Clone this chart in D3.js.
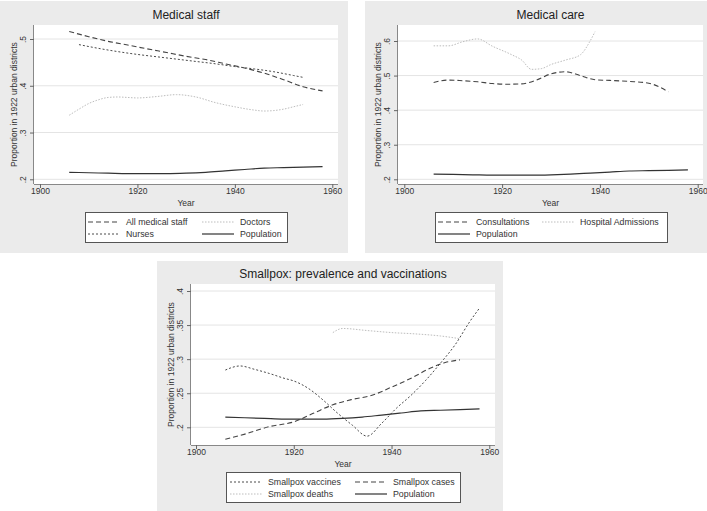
<!DOCTYPE html>
<html>
<head>
<meta charset="utf-8">
<script src="https://cdn.jsdelivr.net/npm/d3@7"></script>
<style>
  body { margin: 0; background: #fff; }
  svg { display: block; font-family: "Liberation Sans", Arial, sans-serif; }
</style>
</head>
<body>
<svg id="chart" width="707" height="511"></svg>
<script>
// population share (same series in all three panels)
const popYears = [1906, 1910, 1914, 1918, 1922, 1926, 1930, 1934, 1938, 1942, 1946, 1950, 1954, 1958];
const population = [.215, .214, .213, .212, .212, .212, .213, .215, .218, .221, .224, .225, .226, .227];

// Medical staff
const staffYears = [1906, 1910, 1914, 1918, 1922, 1926, 1930, 1934, 1938, 1942, 1946, 1950, 1954, 1958];
const allStaff = [.516, .505, .495, .487, .479, .471, .463, .456, .447, .438, .427, .413, .398, .389];
const nurseYears = [1908, 1912, 1916, 1920, 1924, 1928, 1932, 1936, 1940, 1944, 1948, 1952, 1954];
const nurses = [.488, .480, .473, .467, .462, .457, .452, .447, .441, .436, .430, .422, .418];
const doctorYears = [1906, 1908, 1910, 1912, 1914, 1916, 1918, 1920, 1924, 1928, 1932, 1936, 1940, 1944, 1946, 1948, 1950, 1952, 1954];
const doctors = [.337, .350, .362, .370, .375, .376, .375, .374, .377, .381, .376, .364, .355, .348, .346, .347, .350, .355, .360];

// Medical care
const consultYears = [1906, 1909, 1912, 1915, 1918, 1921, 1924, 1927, 1930, 1933, 1936, 1939, 1942, 1946, 1950, 1952, 1954];
const consultations = [.480, .487, .485, .482, .477, .475, .476, .487, .505, .511, .500, .488, .486, .483, .478, .468, .453];
const admitYears = [1906, 1909, 1912, 1915, 1918, 1922, 1924, 1926, 1928, 1930, 1933, 1936, 1938, 1939];
const admissions = [.586, .586, .598, .606, .585, .560, .545, .518, .520, .532, .545, .560, .600, .627];

// Smallpox
const vaccYears = [1906, 1909, 1912, 1915, 1918, 1920, 1923, 1926, 1929, 1932, 1935, 1938, 1941, 1944, 1947, 1950, 1953, 1956, 1958];
const vaccines = [.284, .290, .285, .279, .272, .268, .257, .240, .2205, .203, .187, .206, .228, .247, .269, .294, .321, .355, .375];
const caseYears = [1906, 1910, 1915, 1920, 1924, 1928, 1932, 1936, 1940, 1944, 1948, 1951, 1954];
const cases = [.1824, .190, .201, .208, .2205, .233, .241, .247, .259, .272, .287, .295, .299];
const deathYears = [1928, 1930, 1935, 1940, 1945, 1950, 1954];
const deaths = [.339, .345, .342, .339, .337, .334, .330];

const xTicks = [1900, 1920, 1940, 1960];

const styles = {
  dash:  { stroke: '#444', width: 1.1, dash: '5,3' },
  dot:   { stroke: '#4a4a4a', width: 1, dash: '2,2' },
  light: { stroke: '#bdbdbd', width: 1, dash: '1.5,1.5' },
  solid: { stroke: '#333', width: 1.2, dash: null }
};

const zip = (xs, ys) => xs.map((x, i) => [x, ys[i]]);
const fmt = d => String(d).replace(/^0/, '');

const svg = d3.select('#chart');

function drawPanel(p) {
  const g = svg.append('g');
  g.append('rect').attr('x', p.box[0]).attr('y', p.box[1])
    .attr('width', p.box[2]).attr('height', p.box[3]).attr('fill', '#ebebeb');
  const [px0, py0, px1, py1] = p.plot;
  g.append('rect').attr('x', px0).attr('y', py0)
    .attr('width', px1 - px0).attr('height', py1 - py0).attr('fill', '#fff');

  const x = d3.scaleLinear().domain([1900, 1960]).range(p.xr);
  const y = d3.scaleLinear().domain([p.yTicks[0], p.yTicks[p.yTicks.length - 1]]).range(p.yr);

  // grid
  g.selectAll('.grid').data(p.yTicks).join('line')
    .attr('x1', px0).attr('x2', px1)
    .attr('y1', d => y(d)).attr('y2', d => y(d))
    .attr('stroke', '#e4e4e4').attr('stroke-width', 1);

  // axes
  const ax = g.append('g').attr('transform', `translate(0,${py1})`)
    .call(d3.axisBottom(x).tickValues(xTicks).tickFormat(d3.format('d')).tickSize(4).tickSizeOuter(0));
  ax.select('.domain').attr('d', `M${px0},0.5H${px1}`).attr('stroke', '#888');
  ax.selectAll('.tick line').attr('stroke', '#666');
  ax.selectAll('.tick text').attr('font-size', 8.5).attr('fill', '#333').attr('dy', '0.55em').attr('y', 5);

  const ay = g.append('g').attr('transform', `translate(${px0},0)`)
    .call(d3.axisLeft(y).tickValues(p.yTicks).tickFormat(fmt).tickSize(4).tickSizeOuter(0));
  ay.select('.domain').attr('d', `M-0.5,${py0}V${py1}`).attr('stroke', '#888');
  ay.selectAll('.tick line').attr('stroke', '#666');
  ay.selectAll('.tick text')
    .attr('font-size', 8.5).attr('fill', '#333')
    .attr('x', 0).attr('dy', 0)
    .attr('text-anchor', 'middle')
    .attr('transform', 'translate(-8,0) rotate(-90)');
  ay.attr('font-family', null);
  ax.attr('font-family', null);

  // titles
  g.append('text').attr('x', (px0 + px1) / 2).attr('y', py0 - 6)
    .attr('text-anchor', 'middle').attr('font-size', 12).attr('fill', '#222').text(p.title);
  g.append('text').attr('x', (px0 + px1) / 2).attr('y', py1 + 22)
    .attr('text-anchor', 'middle').attr('font-size', 8.5).attr('fill', '#333').text('Year');
  g.append('text')
    .attr('transform', `translate(${px0 - 17},${(py0 + py1) / 2}) rotate(-90)`)
    .attr('text-anchor', 'middle').attr('font-size', 8.5).attr('fill', '#333')
    .text('Proportion in 1922 urban districts');

  // lines
  const line = d3.line().x(d => x(d[0])).y(d => y(d[1])).curve(d3.curveMonotoneX);
  p.series.forEach(s => {
    const st = styles[s.style];
    g.append('path').datum(s.data).attr('d', line)
      .attr('fill', 'none').attr('stroke', st.stroke).attr('stroke-width', st.width)
      .attr('stroke-dasharray', st.dash);
  });

  // legend
  const [lx, ly, lw, lh] = p.legend.box;
  g.append('rect').attr('x', lx + 0.5).attr('y', ly + 0.5).attr('width', lw).attr('height', lh)
    .attr('fill', '#fff').attr('stroke', '#555').attr('stroke-width', 1);
  p.series.forEach((s, i) => {
    const col = i % 2, row = Math.floor(i / 2);
    const sx = p.legend.cols[col], sy = ly + 10 + row * 12;
    const st = styles[s.style];
    g.append('line').attr('x1', sx).attr('x2', sx + 32).attr('y1', sy).attr('y2', sy)
      .attr('stroke', st.stroke).attr('stroke-width', st.width).attr('stroke-dasharray', st.dash);
    g.append('text').attr('x', sx + 38).attr('y', sy + 3.2)
      .attr('font-size', 8.8).attr('fill', '#333').text(s.name);
  });
}

drawPanel({
  title: 'Medical staff',
  box: [0, 1, 348, 252], plot: [34, 25, 338, 184],
  xr: [40, 332.3], yr: [179.3, 39], yTicks: [.2, .3, .4, .5],
  series: [
    { name: 'All medical staff', style: 'dash', data: zip(staffYears, allStaff) },
    { name: 'Doctors', style: 'light', data: zip(doctorYears, doctors) },
    { name: 'Nurses', style: 'dot', data: zip(nurseYears, nurses) },
    { name: 'Population', style: 'solid', data: zip(popYears, population) }
  ],
  legend: { box: [85, 212, 202, 30], cols: [88, 202] }
});

drawPanel({
  title: 'Medical care',
  box: [365, 1, 342, 252], plot: [398, 25, 703, 184],
  xr: [404.3, 697.7], yr: [179.3, 41], yTicks: [.2, .3, .4, .5, .6],
  series: [
    { name: 'Consultations', style: 'dash', data: zip(consultYears, consultations) },
    { name: 'Hospital Admissions', style: 'light', data: zip(admitYears, admissions) },
    { name: 'Population', style: 'solid', data: zip(popYears, population) }
  ],
  legend: { box: [435, 212, 232, 30], cols: [438, 542] }
});

drawPanel({
  title: 'Smallpox: prevalence and vaccinations',
  box: [157, 261, 346, 250], plot: [191, 284, 495, 445],
  xr: [196, 489.3], yr: [427.3, 291], yTicks: [.2, .25, .3, .35, .4],
  series: [
    { name: 'Smallpox vaccines', style: 'dot', data: zip(vaccYears, vaccines) },
    { name: 'Smallpox cases', style: 'dash', data: zip(caseYears, cases) },
    { name: 'Smallpox deaths', style: 'light', data: zip(deathYears, deaths) },
    { name: 'Population', style: 'solid', data: zip(popYears, population) }
  ],
  legend: { box: [226, 472, 234, 30], cols: [230, 355] }
});
</script>
</body>
</html>
